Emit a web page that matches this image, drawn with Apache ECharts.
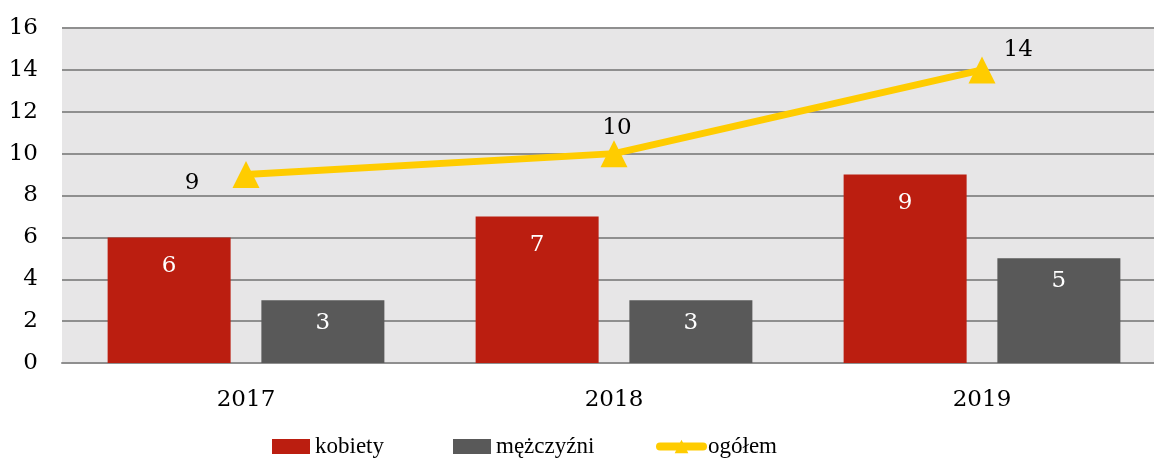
<!DOCTYPE html>
<html>
<head>
<meta charset="utf-8">
<script src="https://cdn.jsdelivr.net/npm/echarts@6/dist/echarts.min.js"></script>
<style>
  html, body { margin: 0; padding: 0; background: #ffffff; overflow: hidden; }
  /* the plot runs slightly past the right edge of the page */
  #chart { width: 1170px; height: 459px; }
</style>
</head>
<body>
<div id="chart"></div>
<script>
// Years on the category axis
const years = ['2017', '2018', '2019'];
// Counts per group
const kobiety = [6, 7, 9];
const mezczyzni = [3, 3, 5];
const ogolem = [9, 10, 14];
// Value axis ticks
const yTicks = [0, 2, 4, 6, 8, 10, 12, 14, 16];

const FONT = 'DejaVu Serif';
const LEGEND_FONT = 'Liberation Serif';

// Where each total label sits relative to its triangle marker
const totalLabelPlacement = [
  { position: 'left', offset: [-28, 8] },
  { position: 'top', offset: [3, 4] },
  { position: 'right', offset: [3, -20] }
];

const legendText = { fontFamily: LEGEND_FONT, fontSize: 23, color: '#000000' };

const chart = echarts.init(document.getElementById('chart'), null, { renderer: 'canvas' });

chart.setOption({
  animation: false,
  backgroundColor: '#ffffff',
  grid: {
    left: 62, top: 28, width: 1104, height: 335,
    show: true, backgroundColor: '#e7e6e7', borderWidth: 0
  },
  // one legend block per entry so each sits at its own spot along the bottom
  legend: [
    { left: 272, top: 435, padding: 0, itemWidth: 38, itemHeight: 15, textStyle: legendText,
      data: [{ name: 'kobiety', icon: 'rect' }] },
    { left: 453, top: 435, padding: 0, itemWidth: 38, itemHeight: 15, textStyle: legendText,
      data: [{ name: 'mężczyźni', icon: 'rect' }] },
    { left: 656, top: 435, padding: 0, itemWidth: 43, itemHeight: 17, textStyle: legendText,
      data: [{ name: 'ogółem', lineStyle: { width: 8, cap: 'round' } }] }
  ],
  xAxis: {
    type: 'category',
    data: years,
    axisLine: { show: true, lineStyle: { color: '#8f8f8f', width: 2 } },
    axisTick: { show: false },
    axisLabel: { fontFamily: FONT, fontSize: 23, color: '#000000', margin: 26 }
  },
  yAxis: {
    type: 'value',
    min: yTicks[0], max: yTicks[yTicks.length - 1], interval: yTicks[1] - yTicks[0],
    axisLine: { show: false },
    axisTick: { show: false },
    splitLine: { show: true, lineStyle: { color: '#8f8f8f', width: 2 } },
    axisLabel: { fontFamily: FONT, fontSize: 23, color: '#000000', margin: 24 }
  },
  series: [
    {
      name: 'kobiety', type: 'bar', data: kobiety,
      barWidth: 123, barGap: '25%',
      itemStyle: { color: '#bb1e10' },
      label: { show: true, position: 'insideTop', distance: 17,
               fontFamily: FONT, fontSize: 23, color: '#ffffff' }
    },
    {
      name: 'mężczyźni', type: 'bar', data: mezczyzni,
      barWidth: 123,
      itemStyle: { color: '#595959' },
      label: { show: true, position: 'insideTop', distance: 11,
               fontFamily: FONT, fontSize: 23, color: '#ffffff' }
    },
    {
      name: 'ogółem', type: 'line', z: 5,
      data: ogolem.map((v, i) => ({ value: v, label: totalLabelPlacement[i] })),
      symbol: 'triangle', symbolSize: [27, 27],
      lineStyle: { color: '#ffcc00', width: 7 },
      itemStyle: { color: '#ffcc00' },
      label: { show: true, fontFamily: FONT, fontSize: 23, color: '#000000' }
    }
  ]
});
</script>
</body>
</html>
